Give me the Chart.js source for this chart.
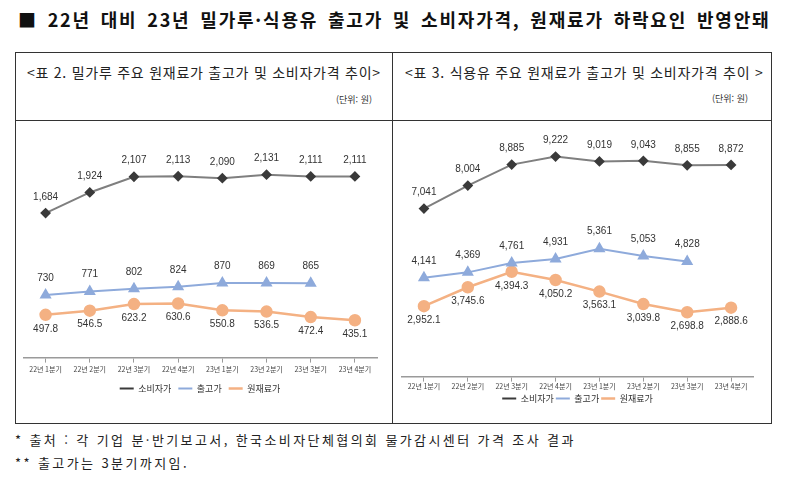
<!DOCTYPE html>
<html lang="ko">
<head>
<meta charset="utf-8">
<script src="https://cdn.jsdelivr.net/npm/chart.js@4/dist/chart.umd.min.js"></script>
<style>
  html, body { margin: 0; padding: 0; background: #fff; }
  body { width: 789px; height: 482px; position: relative; overflow: hidden;
         font-family: "Noto Sans CJK KR", "Noto Sans", sans-serif; color: #222; }
  .abs { position: absolute; white-space: nowrap; }
  #title { left: 18px; top: 6px; font-size: 18px; font-weight: 700; color: #111;
           letter-spacing: 1.8px; word-spacing: 3px; }
  #box { left: 15px; top: 52px; width: 755px; height: 370px; border: 1.5px solid #333; }
  #hline { left: 15px; top: 120px; width: 757px; height: 0; border-top: 1.5px solid #333; }
  #vline { left: 392px; top: 52px; width: 0; height: 372px; border-left: 1.5px solid #333; }
  .head { top: 62px; font-size: 14px; letter-spacing: 0.75px; color: #222; }
  .unit { font-size: 9px; color: #333; }
  canvas { position: absolute; }
  .note { left: 15px; font-size: 13px; letter-spacing: 2.4px; color: #222; }
</style>
</head>
<body>
<div id="title" class="abs">■ 22년 대비 23년 밀가루·식용유 출고가 및 소비자가격, 원재료가 하락요인 반영안돼</div>
<div id="box" class="abs"></div>
<div id="hline" class="abs"></div>
<div id="vline" class="abs"></div>

<div class="abs head" style="left:27px">&lt;표 2. 밀가루 주요 원재료가 출고가 및 소비자가격 추이&gt;</div>
<div class="abs unit" style="left:336px; top:93px">(단위: 원)</div>
<div class="abs head" style="left:405px">&lt;표 3. 식용유 주요 원재료가 출고가 및 소비자가격 추이 &gt;</div>
<div class="abs unit" style="left:712px; top:92px">(단위: 원)</div>

<canvas id="flourChart" width="376" height="300" style="left:16px; top:122px"></canvas>
<canvas id="oilChart" width="377" height="300" style="left:393px; top:122px"></canvas>

<div class="abs note" style="top:430px">* 출처 : 각 기업 분·반기보고서, 한국소비자단체협의회 물가감시센터 가격 조사 결과</div>
<div class="abs note" style="top:453px">** 출고가는 3분기까지임.</div>

<script>
// 분기 라벨
const quarters = ['22년 1분기', '22년 2분기', '22년 3분기', '22년 4분기',
                  '23년 1분기', '23년 2분기', '23년 3분기', '23년 4분기'];
const seriesNames = ['소비자가', '출고가', '원재료가'];

// 표 2. 밀가루 (원)
const flourConsumer = [1684, 1924, 2107, 2113, 2090, 2131, 2111, 2111];
const flourFactory = [730, 771, 802, 824, 870, 869, 865, null];
const flourRaw = [497.8, 546.5, 623.2, 630.6, 550.8, 536.5, 472.4, 435.1];

// 표 3. 식용유 (원)
const oilConsumer = [7041, 8004, 8885, 9222, 9019, 9043, 8855, 8872];
const oilFactory = [4141, 4369, 4761, 4931, 5361, 5053, 4828, null];
const oilRaw = [2952.1, 3745.6, 4394.3, 4050.2, 3563.1, 3039.8, 2698.8, 2888.6];

// 색상
const COLORS = {
  consumerLine: '#7f7f7f',
  consumerPoint: '#3a3a3a',
  factory: '#8eaadb',
  raw: '#f4b183'
};

// 점 위/아래에 값 표시하는 간단한 플러그인
const valueLabels = {
  id: 'valueLabels',
  afterDatasetsDraw(chart) {
    const ctx = chart.ctx;
    ctx.save();
    ctx.font = '10px "Liberation Sans Narrow", "Liberation Sans", sans-serif';
    ctx.fillStyle = '#333';
    ctx.textAlign = 'center';
    ctx.textBaseline = 'middle';
    chart.data.datasets.forEach((ds, i) => {
      const meta = chart.getDatasetMeta(i);
      meta.data.forEach((pt, j) => {
        const v = ds.data[j];
        if (v == null) return;
        const text = v.toLocaleString('en-US', {
          minimumFractionDigits: ds.decimals,
          maximumFractionDigits: ds.decimals
        });
        ctx.fillText(text, pt.x, pt.y + ds.labelOffset);
      });
    });
    ctx.restore();
  }
};

function makeChart(canvasId, consumer, factory, raw, yMax, pad, tickPad, legendPad) {
  const canvas = document.getElementById(canvasId);
  return new Chart(canvas, {
    type: 'line',
    data: {
      labels: quarters,
      datasets: [
        {
          label: seriesNames[0], data: consumer,
          borderColor: COLORS.consumerLine, backgroundColor: COLORS.consumerPoint,
          pointBorderColor: COLORS.consumerPoint, pointStyle: 'rectRot',
          pointRadius: 4, borderWidth: 2, decimals: 0, labelOffset: -16
        },
        {
          label: seriesNames[1], data: factory,
          borderColor: COLORS.factory, backgroundColor: COLORS.factory,
          pointStyle: 'triangle', pointRadius: 5, borderWidth: 2,
          decimals: 0, labelOffset: -17
        },
        {
          label: seriesNames[2], data: raw,
          borderColor: COLORS.raw, backgroundColor: COLORS.raw,
          pointStyle: 'circle', pointRadius: 5, borderWidth: 2.5,
          decimals: 1, labelOffset: 14
        }
      ]
    },
    options: {
      responsive: false,
      devicePixelRatio: 1,
      animation: false,
      layout: { padding: pad },
      plugins: {
        tooltip: { enabled: false },
        legend: {
          position: 'bottom',
          labels: {
            usePointStyle: true,
            pointStyle: 'line',
            pointStyleWidth: 14,
            boxHeight: 8,
            padding: legendPad,
            color: '#333',
            font: { size: 9, family: '"Noto Sans CJK KR", sans-serif' }
          }
        }
      },
      scales: {
        x: {
          offset: true,
          border: { display: true, color: '#9a9a9a', width: 1.5 },
          grid: { display: true, drawOnChartArea: false, drawTicks: true, tickLength: 5, color: '#9a9a9a' },
          ticks: {
            color: '#444', padding: tickPad, maxRotation: 0, autoSkip: false,
            font: { size: 7, family: '"Noto Sans CJK KR", sans-serif' }
          }
        },
        y: { display: false, min: 0, max: yMax }
      }
    },
    plugins: [valueLabels]
  });
}

makeChart('flourChart', flourConsumer, flourFactory, flourRaw, 2500,
  { left: 7, right: 15, top: 21, bottom: 19 }, 3, 7);
makeChart('oilChart', oilConsumer, oilFactory, oilRaw, 10000,
  { left: 9, right: 17, top: 16, bottom: 9 }, 1, 2);
</script>
</body>
</html>
